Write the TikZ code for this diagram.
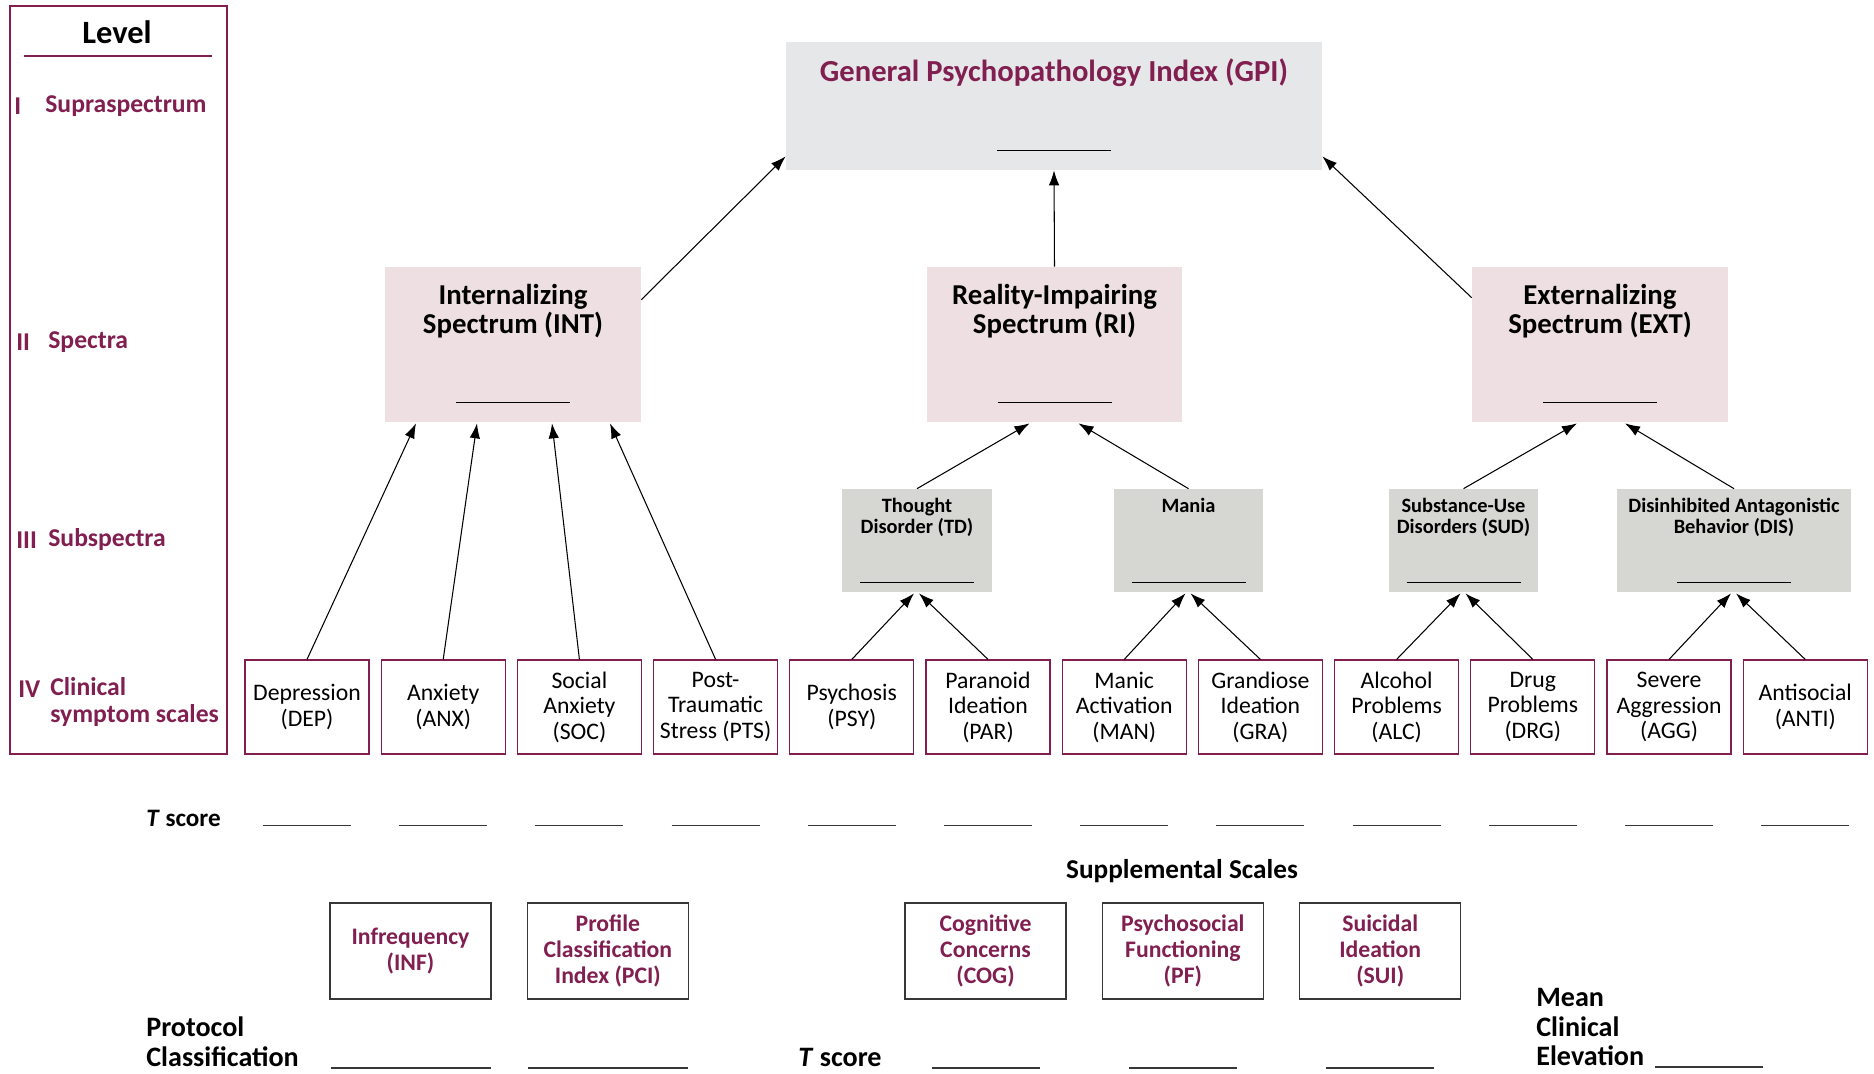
\documentclass[tikz,border=0pt]{standalone}
\usepackage{fontspec}
\setmainfont{Carlito}
\usepackage{tikz}
\usetikzlibrary{shapes,arrows.meta,positioning,calc}
\definecolor{maroon}{RGB}{128,31,80}
\definecolor{gpigray}{RGB}{230,231,233}
\definecolor{specpink}{RGB}{237,223,226}
\definecolor{subgray}{RGB}{214,214,211}
\definecolor{blankgray}{RGB}{55,55,55}

\begin{document}
\begin{tikzpicture}[x=0.02cm,y=-0.02cm,node distance=0.22cm,>={Latex[length=3mm,width=2.1mm]},
  gpibox/.style={fill=gpigray,minimum width=10.72cm,minimum height=2.56cm},
  specbox/.style={fill=specpink,minimum width=5.12cm,minimum height=3.1cm},
  subbox/.style={fill=subgray,minimum width=3cm,minimum height=2.06cm},
  boxtitle/.style={inner sep=0pt,align=center},
  spectitle/.style={boxtitle,font=\bfseries\fontsize{16.4}{16.6}\selectfont},
  subtitle/.style={boxtitle,font=\bfseries\fontsize{11.6}{11.5}\selectfont},
  clin/.style={draw=maroon,line width=0.7pt,minimum width=2.48cm,minimum height=1.88cm,inner sep=1pt,align=center,font=\fontsize{13.5}{14.5}\selectfont},
  supp/.style={draw=blankgray,line width=0.8pt,minimum width=3.22cm,minimum height=1.92cm,inner sep=1pt,align=center,text=maroon,font=\bfseries\fontsize{13.5}{14.6}\selectfont},
  lvl/.style={anchor=west,inner sep=0pt,text=maroon,font=\bfseries\fontsize{14.6}{15.6}\selectfont},
  lbl/.style={inner sep=0pt,font=\bfseries\fontsize{16}{17}\selectfont},
  blank/.style={draw=blankgray,line width=1pt},
  uline/.style={draw=black,line width=0.8pt},
  conn/.style={->,line width=0.6pt}]
  \useasboundingbox (0,0) rectangle (1874,1073);

  \node[draw=maroon,line width=0.7pt,minimum width=4.34cm,minimum height=14.96cm] (LV) at (118.5,380) {};
  \node[inner sep=0pt,font=\bfseries\fontsize{18.5}{20}\selectfont] (LVt) at (117,32) {Level};
  \draw[maroon,line width=0.6pt] (24,56) -- (212,56);
  \node[lvl] (L1) at (14,106) {I};
  \node[lvl] (L1t) at (45,106) {Supraspectrum};
  \node[lvl] (L2) at (16,342) {II};
  \node[lvl] (L2t) at (48,342) {Spectra};
  \node[lvl] (L3) at (16,540) {III};
  \node[lvl] (L3t) at (48,540) {Subspectra};
  \node[lvl] (L4) at (18,689) {IV};
  \node[lvl,align=left] (L4t) at (50,702) {Clinical\\symptom scales};

  \node[gpibox] (GPI) at (1054,106) {};
  \node[boxtitle,text=maroon,font=\bfseries\fontsize{17.4}{19}\selectfont,below=0.33cm of GPI.north] (GPIt) {General Psychopathology Index (GPI)};
  \draw[uline] ($(GPI.south)+(-57,-20)$) -- ++(114,0);

  \node[specbox] (INT) at (513,344.5) {};
  \node[spectitle,below=0.34cm of INT.north] (INTt) {Internalizing\\Spectrum (INT)};
  \draw[uline] ($(INT.south)+(-57,-20)$) -- ++(114,0);
  \node[specbox] (RI) at (1054.5,344.5) {};
  \node[spectitle,below=0.34cm of RI.north] (RIt) {Reality-Impairing\\Spectrum (RI)};
  \draw[uline] ($(RI.south)+(-57,-20)$) -- ++(114,0);
  \node[specbox] (EXT) at (1600,344.5) {};
  \node[spectitle,below=0.34cm of EXT.north] (EXTt) {Externalizing\\Spectrum (EXT)};
  \draw[uline] ($(EXT.south)+(-57,-20)$) -- ++(114,0);

  \node[subbox] (TD) at (917,540.5) {};
  \node[subtitle,below=0.19cm of TD.north] (TDt) {Thought\\Disorder (TD)};
  \draw[uline] ($(TD.south)+(-57,-10)$) -- ++(114,0);
  \node[subbox] (MANIA) at (1188.5,540.5) {};
  \node[subtitle,below=0.19cm of MANIA.north] (MANIAt) {Mania};
  \draw[uline] ($(MANIA.south)+(-57,-10)$) -- ++(114,0);
  \node[subbox] (SUD) at (1463.5,540.5) {};
  \node[subtitle,below=0.19cm of SUD.north] (SUDt) {Substance-Use\\Disorders (SUD)};
  \draw[uline] ($(SUD.south)+(-57,-10)$) -- ++(114,0);
  \node[subbox,minimum width=4.68cm] (DIS) at (1734,540.5) {};
  \node[subtitle,below=0.19cm of DIS.north] (DISt) {Disinhibited Antagonistic\\Behavior (DIS)};
  \draw[uline] ($(DIS.south)+(-57,-10)$) -- ++(114,0);

  \node[clin] (DEP) at (307,707) {Depression\\(DEP)};
  \node[clin,right=of DEP] (ANX) {Anxiety\\(ANX)};
  \node[clin,right=of ANX] (SOC) {Social\\Anxiety\\(SOC)};
  \node[clin,right=of SOC] (PTS) {Post-\\Traumatic\\Stress (PTS)};
  \node[clin,right=of PTS] (PSY) {Psychosis\\(PSY)};
  \node[clin,right=of PSY] (PAR) {Paranoid\\Ideation\\(PAR)};
  \node[clin,right=of PAR] (MAN) {Manic\\Activation\\(MAN)};
  \node[clin,right=of MAN] (GRA) {Grandiose\\Ideation\\(GRA)};
  \node[clin,right=of GRA] (ALC) {Alcohol\\Problems\\(ALC)};
  \node[clin,right=of ALC] (DRG) {Drug\\Problems\\(DRG)};
  \node[clin,right=of DRG] (AGG) {Severe\\Aggression\\(AGG)};
  \node[clin,right=of AGG] (ANTI) {Antisocial\\(ANTI)};

  \draw[conn] ($(INT.north east)+(0,33)$) -- ($(GPI.south west)+(0,-14)$);
  \draw[conn] (RI.north) -- (GPI.south);
  \draw[conn] ($(EXT.north west)+(0,31)$) -- ($(GPI.south east)+(0,-14)$);
  \draw[conn] (DEP.north) -- ($(INT.south)+(-97,1)$);
  \draw[conn] (ANX.north) -- ($(INT.south)+(-36,1)$);
  \draw[conn] (SOC.north) -- ($(INT.south)+(39,1)$);
  \draw[conn] (PTS.north) -- ($(INT.south)+(97,1)$);
  \draw[conn] (TD.north) -- ($(RI.south)+(-25,1)$);
  \draw[conn] (MANIA.north) -- ($(RI.south)+(24,1)$);
  \draw[conn] (SUD.north) -- ($(EXT.south)+(-23,1)$);
  \draw[conn] (DIS.north) -- ($(EXT.south)+(25,1)$);
  \draw[conn] (PSY.north) -- ($(TD.south)+(-3,1)$);
  \draw[conn] (PAR.north) -- ($(TD.south)+(2,1)$);
  \draw[conn] (MAN.north) -- ($(MANIA.south)+(-3,1)$);
  \draw[conn] (GRA.north) -- ($(MANIA.south)+(2,1)$);
  \draw[conn] (ALC.north) -- ($(SUD.south)+(-3,1)$);
  \draw[conn] (DRG.north) -- ($(SUD.south)+(2,1)$);
  \draw[conn] (AGG.north) -- ($(DIS.south)+(-3,1)$);
  \draw[conn] (ANTI.north) -- ($(DIS.south)+(2,1)$);

  \node[lbl,anchor=west,font=\bfseries\fontsize{14.3}{16}\selectfont] (TS) at (146,818) {\textit{T} score};
  \draw[blank] ($(DEP.south)+(-44,71)$) -- ++(88,0);
  \draw[blank] ($(ANX.south)+(-44,71)$) -- ++(88,0);
  \draw[blank] ($(SOC.south)+(-44,71)$) -- ++(88,0);
  \draw[blank] ($(PTS.south)+(-44,71)$) -- ++(88,0);
  \draw[blank] ($(PSY.south)+(-44,71)$) -- ++(88,0);
  \draw[blank] ($(PAR.south)+(-44,71)$) -- ++(88,0);
  \draw[blank] ($(MAN.south)+(-44,71)$) -- ++(88,0);
  \draw[blank] ($(GRA.south)+(-44,71)$) -- ++(88,0);
  \draw[blank] ($(ALC.south)+(-44,71)$) -- ++(88,0);
  \draw[blank] ($(DRG.south)+(-44,71)$) -- ++(88,0);
  \draw[blank] ($(AGG.south)+(-44,71)$) -- ++(88,0);
  \draw[blank] ($(ANTI.south)+(-44,71)$) -- ++(88,0);

  \node[lbl,font=\bfseries\fontsize{15.5}{17}\selectfont] (SS) at (1182,871) {Supplemental Scales};
  \node[supp] (INF) at (410.5,951) {Infrequency\\(INF)};
  \node[supp,right=0.7cm of INF] (PCI) {Profile\\Classification\\Index (PCI)};
  \node[supp] (COG) at (985.5,951) {Cognitive\\Concerns\\(COG)};
  \node[supp,right=0.7cm of COG] (PF) {Psychosocial\\Functioning\\(PF)};
  \node[supp,right=0.7cm of PF] (SUI) {Suicidal\\Ideation\\(SUI)};

  \node[lbl,anchor=west,align=left] (PC) at (146,1042) {Protocol\\Classification};
  \draw[blank] ($(INF.south)+(-80,68)$) -- ++(160,0);
  \draw[blank] ($(PCI.south)+(-80,68)$) -- ++(160,0);
  \node[lbl,anchor=west] (TS2) at (798,1057) {\textit{T} score};
  \draw[blank] ($(COG.south)+(-54,68)$) -- ++(108,0);
  \draw[blank] ($(PF.south)+(-54,68)$) -- ++(108,0);
  \draw[blank] ($(SUI.south)+(-54,68)$) -- ++(108,0);
  \node[lbl,anchor=west,align=left,font=\bfseries\fontsize{16}{16.9}\selectfont] (MCE) at (1536,1027) {Mean\\Clinical\\Elevation};
  \draw[blank] (1655,1067) -- (1763,1067);
\end{tikzpicture}
\end{document}
